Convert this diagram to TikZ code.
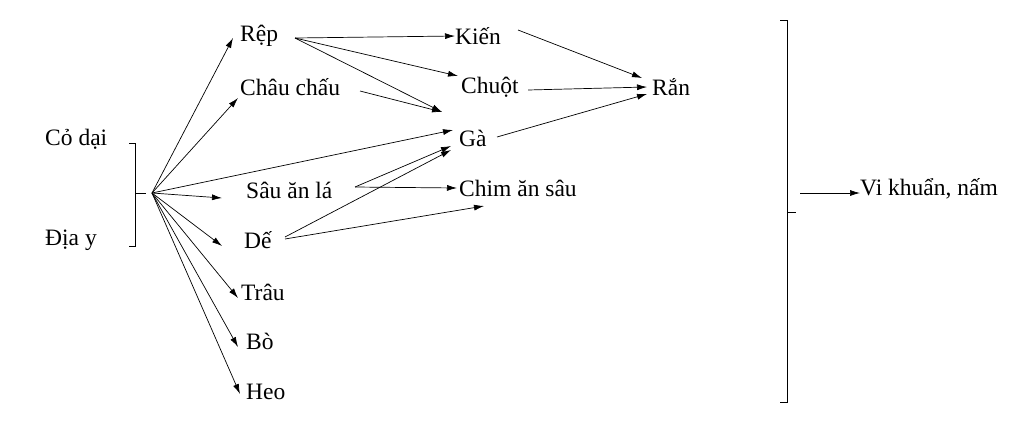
\documentclass[tikz,border=0pt]{standalone}
\usepackage{fontspec}
\setmainfont{Liberation Serif}
\usetikzlibrary{arrows.meta}
\begin{document}
\begin{tikzpicture}[x=1pt,y=-1pt,
  lbl/.style={inner sep=0pt,anchor=west,font=\fontsize{23.5}{24}\selectfont},
  ar/.style={-{Latex[length=10pt,width=6pt]},line width=0.7pt},
  ln/.style={line width=0.7pt}]
\useasboundingbox (0,0) rectangle (1024,437);
\node[lbl] (co) at (45,139) {Cỏ dại};
\node[lbl] (diay) at (45,240) {Địa y};
\node[lbl] (rep) at (240,36) {Rệp};
\node[lbl] (cc) at (240,87) {Châu chấu};
\node[lbl] (sau) at (246,190) {Sâu ăn lá};
\node[lbl] (de) at (244,240) {Dế};
\node[lbl] (trau) at (241,292) {Trâu};
\node[lbl] (bo) at (246,341) {Bò};
\node[lbl] (heo) at (246,392) {Heo};
\node[lbl] (kien) at (455,36) {Kiến};
\node[lbl] (chuot) at (461,87) {Chuột};
\node[lbl] (ga) at (459,138) {Gà};
\node[lbl] (chim) at (459,188) {Chim ăn sâu};
\node[lbl] (ran) at (652,87) {Rắn};
\node[lbl] (vk) at (860,189) {Vi khuẩn, nấm};
% left bracket
\draw[ln] (129,143) -- (135,143) -- (135,246) -- (129,246);
\draw[ln] (135,193) -- (146,193);
\coordinate (src) at (152,193);
% right bracket
\draw[ln] (780,20) -- (787,20) -- (787,402) -- (780,402);
\draw[ln] (787,212) -- (796,212);
\coordinate (vks) at (800,193);
\draw[ar] (vks) -- (vk.west |- vks);
% from source
\draw[ar] (src) -- (233,38);
\draw[ar] (src) -- (238,98);
\draw[ar] (src) -- (453,130);
\draw[ar] (src) -- (222,198);
\draw[ar] (src) -- (222,246);
\draw[ar] (src) -- (238,298);
\draw[ar] (src) -- (238,347);
\draw[ar] (src) -- (240,394);
% consumers
\coordinate (repe) at (295,38);
\draw[ar] (repe) -- (kien.west);
\draw[ar] (repe) -- (458,76);
\draw[ar] (repe) -- (442,112);
\draw[ar] (360,91) -- (442,112);
\coordinate (saue) at (355,187);
\draw[ar] (saue) -- (451,146);
\draw[ar] (saue) -- (457,188);
\draw[ar] (285,237) -- (451,150);
\draw[ar] (285,239) -- (484,206);
\draw[ar] (518,30) -- (642,78);
\draw[ar] (528,90) -- (647,87);
\draw[ar] (497,137) -- (647,94);
\end{tikzpicture}
\end{document}
